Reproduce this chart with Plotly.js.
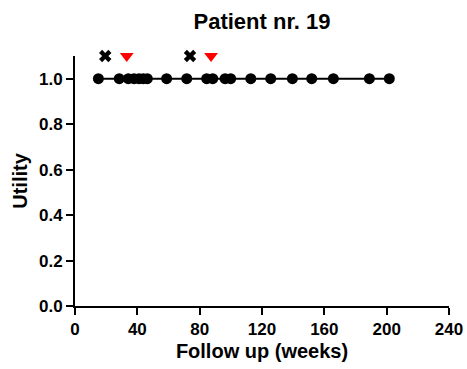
<!DOCTYPE html>
<html><head><meta charset="utf-8">
<script src="https://cdn.plot.ly/plotly-3.0.1.min.js"></script>
<style>body{margin:0}#c{width:467px;height:369px}</style>
</head><body><div id="c"></div>
<script>
const weeks = [15.0, 28.4, 34.2, 37.9, 41.1, 43.8, 46.4, 58.8, 71.7, 84.5, 88.4, 96.3, 99.9, 112.8, 125.6, 139.5, 151.9, 165.8, 188.9, 201.7];
const utility = [1,1,1,1,1,1,1,1,1,1,1,1,1,1,1,1,1,1,1,1];
const crossWeeks = [19.4, 73.8];
const crossY = [1.1, 1.1];
const triWeeks = [33.2, 87.3];
const triY = [1.1, 1.1];
const xTicks = [0, 40, 80, 120, 160, 200, 240];
const yTicks = [0, 0.2, 0.4, 0.6, 0.8, 1.0];

const font = {family: 'Liberation Sans, Arial, sans-serif', color: '#000'};
const data = [
  {x: weeks, y: utility, mode: 'lines+markers', type: 'scatter',
   line: {color: '#000', width: 2}, marker: {color: '#000', size: 11}, cliponaxis: false},
  {x: crossWeeks, y: crossY, mode: 'markers', type: 'scatter',
   marker: {symbol: 'x', color: '#000', size: 11}, cliponaxis: false},
  {x: triWeeks, y: triY, mode: 'markers', type: 'scatter',
   marker: {symbol: 'triangle-down', color: '#ff0000', size: 12}, cliponaxis: false}
];
const layout = {
  width: 467, height: 369, showlegend: false,
  paper_bgcolor: '#fff', plot_bgcolor: '#fff',
  margin: {l: 75, r: 18, t: 56, b: 63},
  title: {text: '<b>Patient nr. 19</b>', font: Object.assign({size: 22}, font), x: 0.561, xanchor: 'center', y: 0.943, yanchor: 'middle'},
  xaxis: {range: [0, 240], tickvals: xTicks, ticktext: xTicks.map(String),
    showline: true, linecolor: '#000', linewidth: 2, ticks: 'outside', ticklen: 7, tickwidth: 2, tickcolor: '#000',
    showgrid: false, zeroline: false, tickfont: Object.assign({size: 17, weight: 'bold'}, font),
    title: {text: '<b>Follow up (weeks)</b>', font: Object.assign({size: 20}, font), standoff: 6}},
  yaxis: {range: [0, 1.1], tickvals: yTicks, ticktext: yTicks.map(v => v.toFixed(1)),
    showline: true, linecolor: '#000', linewidth: 2, ticks: 'outside', ticklen: 7, tickwidth: 2, tickcolor: '#000',
    showgrid: false, zeroline: false, tickfont: Object.assign({size: 17, weight: 'bold'}, font),
    title: {text: '<b>Utility</b>', font: Object.assign({size: 20}, font), standoff: 6}}
};
Plotly.newPlot('c', data, layout, {displayModeBar: false});
</script></body></html>
